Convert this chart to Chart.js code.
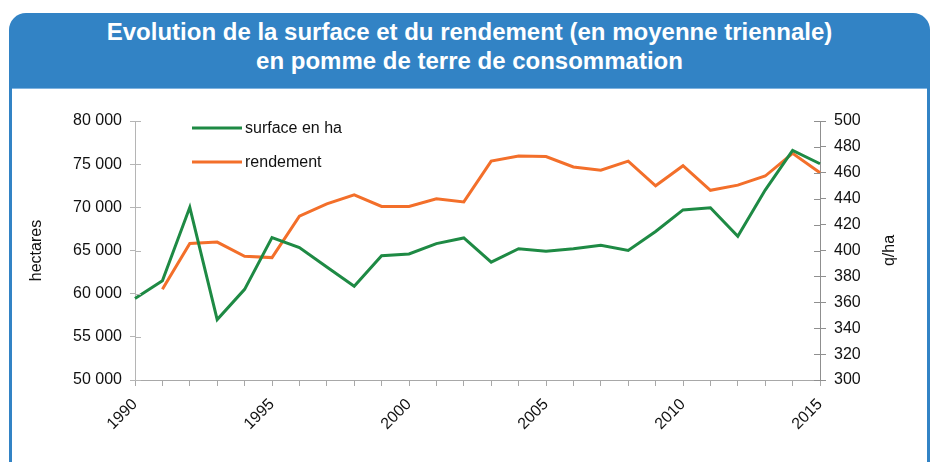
<!DOCTYPE html>
<html>
<head>
<meta charset="utf-8">
<script src="https://cdn.jsdelivr.net/npm/chart.js@4/dist/chart.umd.min.js"></script>
<style>
  html, body { margin:0; padding:0; width:935px; height:462px; overflow:hidden; background:#fff; }
  #panel { position:absolute; left:9px; top:13px; width:921px; height:470px; background:#3283c5; border-radius:17px 17px 0 0; }
  #inner { position:absolute; left:12px; top:88px; width:915px; height:400px; background:#fff; border-top:1px solid #7fb3e0; }
  #title { position:absolute; left:9px; top:17px; width:921px; text-align:center; color:#fff;
           font-family:"Liberation Sans", Arial, sans-serif; font-weight:bold; font-size:24px; line-height:29px; }
  #wrap { position:absolute; left:0; top:0; width:935px; height:462px; }
</style>
</head>
<body>
<div id="panel"></div>
<div id="inner"></div>
<div id="title">Evolution de la surface et du rendement (en moyenne triennale)<br>en pomme de terre de consommation</div>
<div id="wrap"><canvas id="c" width="935" height="462"></canvas></div>
<script>
const years = ["1990","1991","1992","1993","1994","1995","1996","1997","1998","1999","2000","2001","2002","2003","2004","2005","2006","2007","2008","2009","2010","2011","2012","2013","2014","2015"];
const surface = [59450,61500,70000,57000,60500,66500,65350,63100,60850,64400,64600,65800,66450,63650,65200,64900,65200,65600,65000,67200,69700,69950,66650,72000,76600,75050];
const rendement = [null,370,405.5,406.5,395.5,394.5,426.5,436,443,434,434,440,437.5,469,473,472.5,464.5,462,469,450,465.5,446.5,450.5,457.5,475,460];
const seriesNames = ["surface en ha","rendement"];
const leftTitle = "hectares";
const rightTitle = "q/ha";

const FONT = "'Liberation Sans', Arial, sans-serif";
const GREEN = "#1e8a44";
const ORANGE = "#f36f2a";

const fmt = v => String(v).replace(/\B(?=(\d{3})+(?!\d))/g, " ");

const innerTicks = {
  id: 'innerTicks',
  afterDraw(chart) {
    const ctx = chart.ctx;
    ['y','y1'].forEach(id => {
      const s = chart.scales[id];
      ctx.save();
      ctx.strokeStyle = id === 'y' ? '#b5b5b5' : '#8f8f8f';
      ctx.lineWidth = 1;
      s.ticks.forEach(t => {
        const py = Math.round(s.getPixelForValue(t.value)) + 0.5;
        ctx.beginPath();
        if (id === 'y') { ctx.moveTo(s.right, py); ctx.lineTo(s.right + 6, py); }
        else { ctx.moveTo(s.left, py); ctx.lineTo(s.left - 6, py); }
        ctx.stroke();
      });
      ctx.restore();
    });
    // right axis title, reading bottom-to-top like the left one
    const s1 = chart.scales.y1;
    ctx.save();
    ctx.translate(890, (s1.top + s1.bottom) / 2);
    ctx.rotate(-Math.PI / 2);
    ctx.fillStyle = '#111';
    ctx.font = "16px " + FONT;
    ctx.textAlign = 'center';
    ctx.textBaseline = 'middle';
    ctx.fillText(rightTitle, 0, 0);
    ctx.restore();
  }
};

const customLegend = {
  id: 'customLegend',
  afterDraw(chart) {
    const ctx = chart.ctx;
    const x0 = chart.chartArea.left + 57;
    const ys = [chart.chartArea.top + 7, chart.chartArea.top + 41];
    chart.data.datasets.forEach((ds, i) => {
      ctx.save();
      ctx.strokeStyle = ds.borderColor;
      ctx.lineWidth = 3;
      ctx.beginPath();
      ctx.moveTo(x0, ys[i]);
      ctx.lineTo(x0 + 50, ys[i]);
      ctx.stroke();
      ctx.fillStyle = '#111';
      ctx.font = "16px " + FONT;
      ctx.textBaseline = 'middle';
      ctx.fillText(ds.label, x0 + 53, ys[i] + 1);
      ctx.restore();
    });
  }
};

new Chart(document.getElementById('c'), {
  type: 'line',
  data: {
    labels: years,
    datasets: [
      { label: seriesNames[0], data: surface, yAxisID: 'y', borderColor: GREEN, backgroundColor: GREEN, borderWidth: 3, pointRadius: 0, tension: 0 },
      { label: seriesNames[1], data: rendement, yAxisID: 'y1', borderColor: ORANGE, backgroundColor: ORANGE, borderWidth: 3, pointRadius: 0, tension: 0 }
    ]
  },
  options: {
    responsive: false,
    animation: false,
    devicePixelRatio: 1,
    layout: { padding: { left: 0, right: 0, top: 121, bottom: 0 } },
    plugins: { legend: { display: false }, tooltip: { enabled: false }, title: { display: false } },
    scales: {
      x: {
        type: 'category',
        offset: false,
        afterFit(s) { s.height = 82; },
        grid: { display: true, drawOnChartArea: false, drawTicks: true, tickLength: 6, color: '#a8a8a8' },
        border: { display: true, color: '#a8a8a8' },
        ticks: {
          autoSkip: false, maxRotation: 45, minRotation: 45, padding: 9,
          color: '#111', font: { family: FONT, size: 16 },
          callback(v, i) { const y = this.getLabelForValue(v); return (+y % 5 === 0) ? y : ''; }
        }
      },
      y: {
        position: 'left', min: 50000, max: 80000,
        afterFit(s) { s.width = 135; },
        grid: { display: true, drawOnChartArea: false, drawTicks: true, tickLength: 5, color: '#b5b5b5' },
        border: { display: true, color: '#b5b5b5' },
        ticks: { stepSize: 5000, padding: 8, color: '#111', font: { family: FONT, size: 16 }, callback: v => fmt(v) },
        title: { display: true, text: leftTitle, color: '#111', font: { family: FONT, size: 16 }, padding: { top: 27, bottom: 0 } }
      },
      y1: {
        position: 'right', min: 300, max: 500,
        afterFit(s) { s.width = 115; },
        grid: { display: true, drawOnChartArea: false, drawTicks: true, tickLength: 6, color: '#8f8f8f' },
        border: { display: true, color: '#8f8f8f' },
        ticks: { stepSize: 20, padding: 8, color: '#111', font: { family: FONT, size: 16 } },
        title: { display: false }
      }
    }
  },
  plugins: [innerTicks, customLegend]
});
</script>
</body>
</html>
